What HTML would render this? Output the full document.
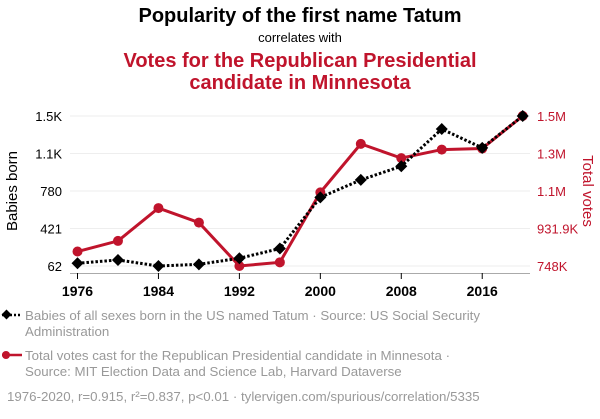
<!DOCTYPE html>
<html><head><meta charset="utf-8"><style>
body{margin:0;background:#fff;font-family:"Liberation Sans",sans-serif}
svg text{font-family:"Liberation Sans",sans-serif}
</style></head><body>
<svg width="600" height="414" id="c">
<text x="300" y="22" text-anchor="middle" font-size="20" font-weight="bold" fill="#000">Popularity of the first name Tatum</text>
<text x="300" y="42" text-anchor="middle" font-size="13" fill="#000">correlates with</text>
<text x="300" y="67" text-anchor="middle" font-size="20" font-weight="bold" fill="#c0142c">Votes for the Republican Presidential</text>
<text x="300" y="89" text-anchor="middle" font-size="20" font-weight="bold" fill="#c0142c">candidate in Minnesota</text>
<g id="grid"></g><g id="axes"></g><g id="marks"></g>
<text transform="translate(17,191) rotate(-90)" text-anchor="middle" font-size="15" fill="#000">Babies born</text>
<text transform="translate(583,191) rotate(90)" text-anchor="middle" font-size="15" fill="#c0142c">Total votes</text>
<g>
<line x1="2" y1="315" x2="22" y2="315" stroke="#000" stroke-width="2.5" stroke-dasharray="2,2"/>
<rect x="3" y="311" width="7" height="7" fill="#000" transform="rotate(45 6.5 314.5)"/>
<text x="25" y="320" font-size="13.3" fill="#999">Babies of all sexes born in the US named Tatum · Source: US Social Security</text>
<text x="25" y="336" font-size="13.3" fill="#999">Administration</text></g>
<g>
<line x1="2" y1="355" x2="22" y2="355" stroke="#c0142c" stroke-width="2.5"/>
<circle cx="6" cy="355" r="4" fill="#c0142c"/>
<text x="25" y="360" font-size="13.3" fill="#999">Total votes cast for the Republican Presidential candidate in Minnesota ·</text>
<text x="25" y="376" font-size="13.3" fill="#999">Source: MIT Election Data and Science Lab, Harvard Dataverse</text></g>
<text x="7" y="401" font-size="13.3" fill="#999">1976-2020, r=0.915, r²=0.837, p&lt;0.01 · tylervigen.com/spurious/correlation/5335</text>
</svg>
<script>
const years=[1976,1980,1984,1988,1992,1996,2000,2004,2008,2012,2016,2020];
const babies=[88,120,62,78,136,229,719,886,1017,1373,1193,1498];
const votes=[819,871,1032,961,748,766,1109,1347,1277,1319,1324,1484];
const xTicks=[1976,1984,1992,2000,2008,2016];
const leftTicks=[62,421,780,1139,1498];
const leftLabels=["62","421","780","1.1K","1.5K"];
const rightTicks=[748,931.9,1115.8,1299.7,1483.6];
const rightLabels=["748K","931.9K","1.1M","1.3M","1.5M"];
const NS="http://www.w3.org/2000/svg";
const x=y=>77.5+(y-1976)*(522.7-77.5)/44;
const yl=v=>266-(v-62)/(1498-62)*150;
const yr=v=>266-(v-748)/(1483.6-748)*150;
function mk(t,a,p){const e=document.createElementNS(NS,t);for(const k in a)e.setAttribute(k,a[k]);p.appendChild(e);return e;}
const G=document.getElementById('grid'),A=document.getElementById('axes'),M=document.getElementById('marks');
leftTicks.forEach((v,i)=>{
 const l=mk('line',{x1:70,x2:530,y1:yl(v),y2:yl(v),stroke:'#eee','stroke-width':1},G);
 
 
 const t=mk('text',{x:62,y:yl(v)+5,'text-anchor':'end','font-size':13,fill:'#000'},A);t.textContent=leftLabels[i];
 
 
});
rightTicks.forEach((v,i)=>{
 const t=mk('text',{x:537,y:yr(v)+5,'font-size':13,fill:'#c0142c'},A);t.textContent=rightLabels[i];
 
 
});
const ax=mk('line',{x1:70,x2:530,y1:273.5,y2:273.5,stroke:'#aaa','stroke-width':1},A);


xTicks.forEach(v=>{
 const tk=mk('line',{x1:x(v),x2:x(v),y1:273,y2:279,stroke:'#000','stroke-width':1},A);
 
 
 const t=mk('text',{x:x(v),y:296,'text-anchor':'middle','font-size':14,'font-weight':'bold',fill:'#000'},A);t.textContent=v;
 
 
});
const rp=mk('polyline',{points:years.map((y,i)=>x(y)+','+yr(votes[i])).join(' '),fill:'none',stroke:'#c0142c','stroke-width':3},M);


years.forEach((y,i)=>{const c=mk('circle',{cx:x(y),cy:yr(votes[i]),r:5,fill:'#c0142c'},M);
 
 });
const bp=mk('polyline',{points:years.map((y,i)=>x(y)+','+yl(babies[i])).join(' '),fill:'none',stroke:'#000','stroke-width':3,'stroke-dasharray':'2.5,2'},M);


years.forEach((y,i)=>{const X=x(y),Y=yl(babies[i]);const d=mk('polygon',{points:`${X},${Y-6} ${X+6},${Y} ${X},${Y+6} ${X-6},${Y}`,fill:'#000'},M);
 
 });
</script>
</body></html>
